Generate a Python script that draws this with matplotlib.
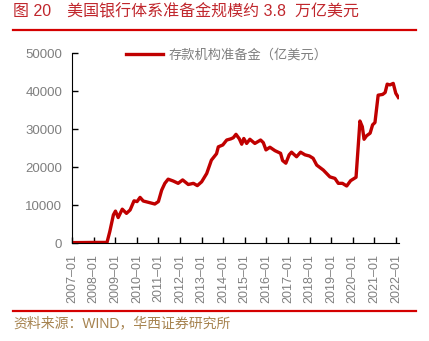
"""Reserves of US depository institutions, 2007-2022 (in 100m USD)."""
from __future__ import annotations

import matplotlib

matplotlib.use("Agg")
import matplotlib.dates as mdates
import matplotlib.pyplot as plt
import pandas as pd

plt.rcParams["font.family"] = ["Liberation Sans", "Noto Sans CJK SC", "DejaVu Sans"]

TITLE = "图 20　美国银行体系准备金规模约 3.8  万亿美元"
SOURCE = "资料来源：WIND，华西证券研究所"
SERIES_LABEL = "存款机构准备金（亿美元）"

# readings
dates = [
    "2007-01-01", "2007-07-01", "2008-01-01", "2008-08-15", "2008-10-01",
    "2008-12-01", "2009-01-05", "2009-02-20", "2009-04-30", "2009-07-10",
    "2009-09-10", "2009-11-15", "2010-01-05", "2010-02-25", "2010-04-20",
    "2010-08-10", "2010-11-01", "2011-01-01", "2011-02-25", "2011-04-20",
    "2011-06-15", "2011-09-10", "2011-12-01", "2012-02-15", "2012-05-20",
    "2012-08-15", "2012-10-20", "2013-01-01", "2013-03-28", "2013-06-15",
    "2013-09-10", "2013-10-10", "2013-12-25", "2014-03-01", "2014-05-08",
    "2014-06-20", "2014-08-05", "2014-10-01", "2014-11-10", "2014-12-15",
    "2015-02-01", "2015-03-28", "2015-06-20", "2015-09-25", "2015-11-10",
    "2015-12-25", "2016-03-01", "2016-05-25", "2016-08-28", "2016-10-01",
    "2016-11-25", "2017-01-20", "2017-03-01", "2017-05-25", "2017-08-01",
    "2017-10-15", "2017-12-28", "2018-03-01", "2018-05-01", "2018-08-20",
    "2018-12-10", "2019-03-05", "2019-05-01", "2019-07-10", "2019-09-20",
    "2019-11-25", "2020-02-25", "2020-04-01", "2020-05-01", "2020-06-10",
    "2020-07-10", "2020-08-20", "2020-10-20", "2020-12-01", "2021-01-10",
    "2021-03-05", "2021-05-20", "2021-07-01", "2021-08-05", "2021-09-20",
    "2021-11-15", "2021-12-28", "2022-02-10",
]
reserves = [
    100, 120, 150, 150, 3000,
    7400, 8400, 6700, 8900, 7800,
    8700, 11100, 10900, 12000, 11050,
    10600, 10260, 10900, 13900, 15700,
    16800, 16300, 15700, 16600, 15400,
    15700, 15100, 16100, 18300, 21800,
    23500, 25300, 25800, 27100, 27400,
    27700, 28600, 27400, 26000, 27500,
    26200, 27300, 26200, 27100, 26400,
    24500, 25200, 24300, 23600, 21700,
    21000, 23200, 23900, 22700, 23900,
    23200, 22900, 22300, 20500, 19200,
    17400, 17000, 15700, 15700, 15000,
    16400, 17300, 25300, 32100, 30600,
    27300, 28200, 28900, 31100, 31700,
    38900, 39100, 39600, 41800, 41600,
    42000, 39400, 38300,
]
years = list(range(2007, 2023))
y_ticks = [0, 10000, 20000, 30000, 40000, 50000]

LINE_RED = "#c00000"
GREY = "#7f7f7f"

fig = plt.figure(figsize=(4.29, 3.41), dpi=100)
ax = fig.add_axes([72 / 429, 1 - 243 / 341, 326.5 / 429, 190 / 341])

x = pd.to_datetime(dates)
ax.plot(x, reserves, color=LINE_RED, linewidth=2.4, label=SERIES_LABEL)

ax.set_xlim(pd.Timestamp("2007-01-01"), pd.Timestamp("2022-02-12"))
ax.set_ylim(0, 50000)
ax.set_yticks(y_ticks)
ax.set_xticks([pd.Timestamp(f"{y}-01-01") for y in years])
ax.xaxis.set_major_formatter(mdates.DateFormatter("%Y–%m"))

for side in ("top", "right"):
    ax.spines[side].set_visible(False)
ax.tick_params(axis="both", direction="in", colors="black", labelcolor=GREY,
               labelsize=9.5, length=4, width=1)
ax.tick_params(axis="y", pad=7)
ax.tick_params(axis="x", labelsize=9, pad=8, rotation=90)

ax.legend(loc="center", bbox_to_anchor=(0.475, 0.99), frameon=False,
          handlelength=2.8, handletextpad=0.4, labelcolor=GREY,
          prop={"family": ["Noto Sans CJK SC"], "size": 9.5})

# header / footer
fig.text(13 / 429, 1 - 12 / 341, TITLE, color="#c0272d", fontsize=11.5,
         va="center", ha="left")
fig.text(13 / 429, 1 - 323 / 341, SOURCE, color="#a6834f", fontsize=10,
         va="center", ha="left")
for y in (30, 311):
    fig.add_artist(plt.Line2D([13 / 429, 416 / 429], [1 - y / 341] * 2,
                              color="#d40000", linewidth=1.6))

fig.savefig("out.png", dpi=100)
plt.close(fig)
